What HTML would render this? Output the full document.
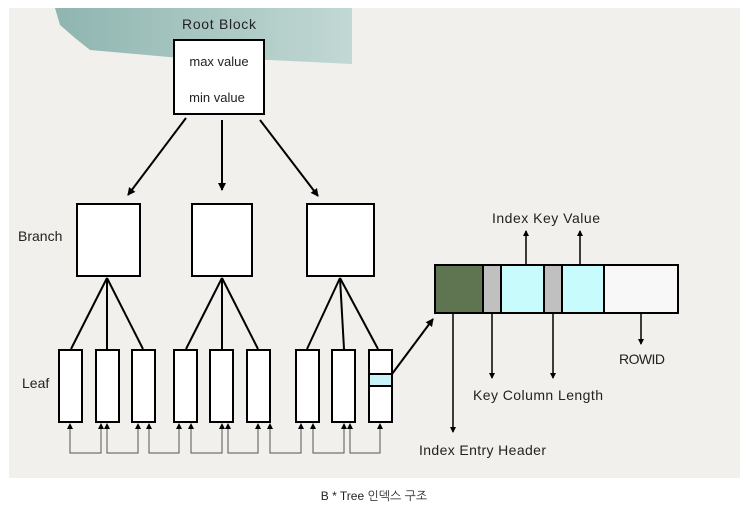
<!DOCTYPE html>
<html><head><meta charset="utf-8"><style>
body{margin:0;width:748px;height:510px;background:#fff;overflow:hidden}
svg text{font-family:"Liberation Sans","NanumGothic",sans-serif;fill:#222}
</style></head><body>
<svg width="748" height="510" viewBox="0 0 748 510" xmlns="http://www.w3.org/2000/svg">
<defs>
<marker id="a" markerWidth="8" markerHeight="8" refX="7" refY="4" orient="auto" markerUnits="userSpaceOnUse"><path d="M0,0 L8,4 L0,8 z" fill="#000"/></marker>
<marker id="s" markerWidth="6" markerHeight="6" refX="5" refY="3" orient="auto-start-reverse" markerUnits="userSpaceOnUse"><path d="M0,0 L6,3 L0,6 z" fill="#000"/></marker>
<linearGradient id="t" x1="0" x2="1"><stop offset="0" stop-color="#8fb5b0"/><stop offset="1" stop-color="#c2d8d4"/></linearGradient>
</defs>
<rect x="9" y="8" width="731" height="470" fill="#f1f0ed"/>
<path d="M55,8 L352,8 L352,64 L270,60 L180,58 L90,50 L75,38 L60,25 Z" fill="url(#t)"/>
<text x="219" y="29" font-size="14" text-anchor="middle" textLength="74">Root Block</text>
<rect x="174" y="40" width="90" height="74" fill="#fff" stroke="#000" stroke-width="2"/>
<text x="219" y="66" font-size="13" text-anchor="middle">max value</text>
<text x="217" y="102" font-size="13" text-anchor="middle">min value</text>
<g stroke="#000" stroke-width="2">
<line x1="186" y1="118" x2="128" y2="195" marker-end="url(#a)"/>
<line x1="222" y1="120" x2="222" y2="190" marker-end="url(#a)"/>
<line x1="260" y1="120" x2="318" y2="196" marker-end="url(#a)"/>
</g>
<text x="18" y="241" font-size="14">Branch</text>
<text x="22" y="388" font-size="14">Leaf</text>
<g fill="#fff" stroke="#000" stroke-width="2">
<rect x="77" y="204" width="63" height="72"/>
<rect x="192" y="204" width="60" height="72"/>
<rect x="307" y="204" width="67" height="72"/>
</g>
<g stroke="#000" stroke-width="2">
<line x1="107" y1="278" x2="71" y2="349"/><line x1="107" y1="278" x2="107" y2="349"/><line x1="107" y1="278" x2="143" y2="349"/>
<line x1="222" y1="278" x2="186" y2="349"/><line x1="222" y1="278" x2="222" y2="349"/><line x1="222" y1="278" x2="258" y2="349"/>
<line x1="340" y1="278" x2="307" y2="349"/><line x1="340" y1="278" x2="344" y2="349"/><line x1="340" y1="278" x2="378" y2="349"/>
</g>
<g fill="#fff" stroke="#000" stroke-width="2">
<rect x="59" y="350" width="23" height="72"/><rect x="96" y="350" width="23" height="72"/><rect x="132" y="350" width="23" height="72"/>
<rect x="174" y="350" width="23" height="72"/><rect x="210" y="350" width="23" height="72"/><rect x="247" y="350" width="23" height="72"/>
<rect x="296" y="350" width="23" height="72"/><rect x="332" y="350" width="23" height="72"/><rect x="369" y="350" width="23" height="72"/>
</g>
<rect x="369" y="374" width="23" height="12" fill="#c8f4f8" stroke="#000" stroke-width="2"/>
<g fill="none" stroke="#555" stroke-width="1">
<path d="M70,424 V453 H101 V424" marker-start="url(#s)" marker-end="url(#s)"/>
<path d="M107,424 V453 H138 V424" marker-start="url(#s)" marker-end="url(#s)"/>
<path d="M149,424 V453 H179 V424" marker-start="url(#s)" marker-end="url(#s)"/>
<path d="M191,424 V453 H222 V424" marker-start="url(#s)" marker-end="url(#s)"/>
<path d="M228,424 V453 H258 V424" marker-start="url(#s)" marker-end="url(#s)"/>
<path d="M270,424 V453 H301 V424" marker-start="url(#s)" marker-end="url(#s)"/>
<path d="M313,424 V453 H344 V424" marker-start="url(#s)" marker-end="url(#s)"/>
<path d="M350,424 V453 H380 V424" marker-start="url(#s)" marker-end="url(#s)"/>
</g>
<line x1="392" y1="374" x2="433" y2="319" stroke="#000" stroke-width="2" marker-end="url(#a)"/>
<g stroke="#000" stroke-width="2">
<rect x="435" y="265" width="48" height="48" fill="#5f7552"/>
<rect x="483" y="265" width="18" height="48" fill="#c0c0c0"/>
<rect x="501" y="265" width="43" height="48" fill="#c8fcfc"/>
<rect x="544" y="265" width="18" height="48" fill="#c0c0c0"/>
<rect x="562" y="265" width="42" height="48" fill="#c8fcfc"/>
<rect x="604" y="265" width="74" height="48" fill="#f8f8f8"/>
</g>
<g stroke="#000" stroke-width="1.5">
<line x1="526" y1="264" x2="526" y2="231" marker-end="url(#s)"/>
<line x1="580" y1="264" x2="580" y2="231" marker-end="url(#s)"/>
<line x1="453" y1="314" x2="453" y2="432" marker-end="url(#s)"/>
<line x1="492" y1="314" x2="492" y2="378" marker-end="url(#s)"/>
<line x1="553" y1="314" x2="553" y2="378" marker-end="url(#s)"/>
<line x1="641" y1="314" x2="641" y2="344" marker-end="url(#s)"/>
</g>
<text x="492" y="223" font-size="14" textLength="108">Index Key Value</text>
<text x="619" y="364" font-size="14" textLength="46">ROWID</text>
<text x="473" y="400" font-size="14" textLength="130">Key Column Length</text>
<text x="419" y="455" font-size="14" textLength="127">Index Entry Header</text>
<text x="374" y="500" font-size="12" text-anchor="middle">B * Tree 인덱스 구조</text>
</svg>
</body></html>
